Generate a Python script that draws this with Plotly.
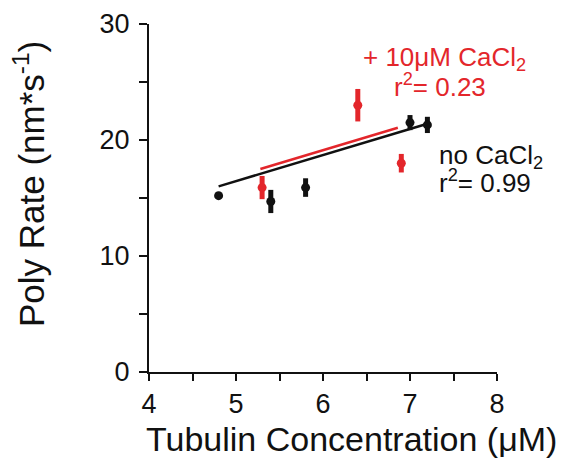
import plotly.graph_objects as go

# Data
black_x = [4.8, 5.4, 5.8, 7.0, 7.2]
black_y = [15.2, 14.7, 15.9, 21.5, 21.3]
black_err = [0.0, 1.0, 0.8, 0.65, 0.7]

red_x = [5.3, 6.4, 6.9]
red_y = [15.9, 23.0, 18.0]
red_err = [1.0, 1.4, 0.8]

black_fit_x = [4.8, 7.2]
black_fit_y = [16.0, 21.4]
red_fit_x = [5.28, 6.86]
red_fit_y = [17.5, 21.05]

x_ticks = [4, 5, 6, 7, 8]
y_ticks = [0, 10, 20, 30]

RED = "#e3262b"
BLACK = "#111111"
FONT = "Liberation Sans, Arial, sans-serif"

fig = go.Figure()

fig.add_trace(go.Scatter(x=black_fit_x, y=black_fit_y, mode="lines",
                         line=dict(color=BLACK, width=2.5), showlegend=False))
fig.add_trace(go.Scatter(x=red_fit_x, y=red_fit_y, mode="lines",
                         line=dict(color=RED, width=2.5), showlegend=False))

fig.add_trace(go.Scatter(x=black_x, y=black_y, mode="markers",
                         marker=dict(color=BLACK, size=9),
                         error_y=dict(type="data", array=black_err, color=BLACK,
                                      thickness=5, width=0),
                         showlegend=False))
fig.add_trace(go.Scatter(x=red_x, y=red_y, mode="markers",
                         marker=dict(color=RED, size=9),
                         error_y=dict(type="data", array=red_err, color=RED,
                                      thickness=5, width=0),
                         showlegend=False))

annotations = [
    dict(x=7.40, y=27.0, text="+ 10μM CaCl<sub>2</sub>", font=dict(color=RED, size=26),
         xanchor="center", yanchor="middle", xref="x", yref="y"),
    dict(x=7.34, y=24.7, text="r<sup>2</sup>= 0.23", font=dict(color=RED, size=26),
         xanchor="center", yanchor="middle", xref="x", yref="y"),
    dict(x=7.31, y=18.6, text="no CaCl<sub>2</sub>", font=dict(color=BLACK, size=26),
         xanchor="left", yanchor="middle", xref="x", yref="y"),
    dict(x=7.31, y=16.4, text="r<sup>2</sup>= 0.99", font=dict(color=BLACK, size=26),
         xanchor="left", yanchor="middle", xref="x", yref="y"),
    # axis titles
    dict(x=6.33, y=0, xref="x", yref="paper", yanchor="middle", yshift=-67,
         text="Tubulin Concentration (μM)", font=dict(color=BLACK, size=34)),
    dict(x=0, y=16.2, xref="paper", yref="y", xanchor="center", yanchor="middle",
         xshift=-120, textangle=-90,
         text="Poly Rate (nm*s<sup>-1</sup>)", font=dict(color=BLACK, size=35)),
]
for a in annotations:
    a.update(showarrow=False)

fig.update_layout(
    width=564, height=467,
    margin=dict(l=141, r=75, t=16, b=103),
    paper_bgcolor="white", plot_bgcolor="white",
    font=dict(family=FONT, color=BLACK, size=27),
    annotations=annotations,
    xaxis=dict(range=[4, 8], tickvals=x_ticks, showgrid=False, zeroline=False,
               automargin=False,
               showline=True, linecolor=BLACK, linewidth=2,
               ticks="outside", ticklen=7, tickwidth=2, tickcolor=BLACK,
               minor=dict(tickvals=[4.5, 5.5, 6.5, 7.5], ticks="outside", ticklen=7,
                          tickwidth=2, tickcolor=BLACK),
               tickfont=dict(size=27)),
    yaxis=dict(range=[0, 30], tickvals=y_ticks, showgrid=False, zeroline=False,
               automargin=False, ticklabelstandoff=4,
               showline=True, linecolor=BLACK, linewidth=2,
               ticks="outside", ticklen=8, tickwidth=2, tickcolor=BLACK,
               minor=dict(tickvals=[5, 15, 25], ticks="outside", ticklen=8,
                          tickwidth=2, tickcolor=BLACK),
               tickfont=dict(size=27)),
)

fig.write_html("out.html")
